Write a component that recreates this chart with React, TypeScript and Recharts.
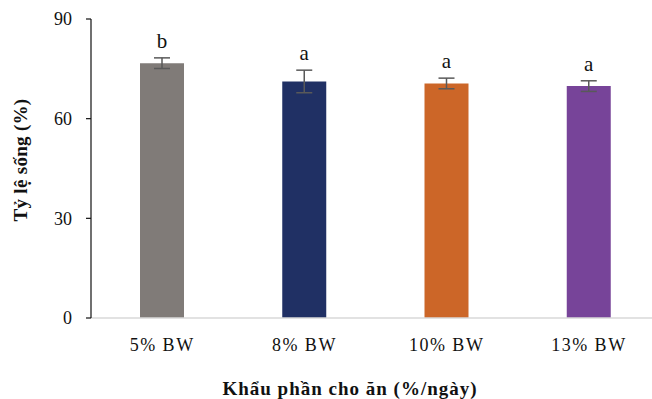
import React from "react";
import {
  BarChart,
  Bar,
  XAxis,
  YAxis,
  Cell,
  ErrorBar,
  LabelList,
} from "recharts";

const categories = ["5% BW", "8% BW", "10% BW", "13% BW"];
const survival = [76.7, 71.2, 70.6, 69.8];
const errors = [1.6, 3.4, 1.6, 1.6];
const letters = ["b", "a", "a", "a"];
const barColors = ["#807B78", "#203064", "#CC6628", "#774499"];
const yTicks = [0, 30, 60, 90];

const data = categories.map((name, i) => ({
  name,
  value: survival[i],
  err: errors[i],
  letter: letters[i],
}));

const FONT = "'Liberation Serif', 'Times New Roman', serif";

// letter sits above the error bar; error height derived from bar height/value
const LetterLabel = (props: any) => {
  const { x, y, width, height, index } = props;
  const d = data[index];
  const errPx = (height * d.err) / d.value;
  return (
    <text
      x={x + width / 2}
      y={y - errPx - 10}
      textAnchor="middle"
      fontFamily={FONT}
      fontSize={21}
      fill="#111"
    >
      {d.letter}
    </text>
  );
};

export default function App() {
  return (
    <div
      style={{
        position: "absolute",
        left: 0,
        top: 0,
        width: 652,
        height: 399,
        overflow: "hidden",
        background: "#fff",
      }}
    >
      <BarChart
        width={672}
        height={399}
        data={data}
        margin={{ top: 19, right: 12, bottom: 51, left: 0 }}
        barSize={44}
      >
        <XAxis
          dataKey="name"
          height={30}
          tickLine={false}
          axisLine={{ stroke: "#d9d9d9", strokeWidth: 1.5 }}
          tick={{ fill: "#111", fontSize: 18, fontFamily: FONT, letterSpacing: 1.5 }}
          tickMargin={14}
          interval={0}
        />
        <YAxis
          domain={[0, 90]}
          ticks={yTicks}
          width={91}
          axisLine={{ stroke: "#111", strokeWidth: 1.2 }}
          tickLine={{ stroke: "#111", strokeWidth: 1.2 }}
          tickSize={5}
          tickMargin={14}
          tick={{ fill: "#111", fontSize: 18, fontFamily: FONT }}
        />
        <Bar dataKey="value" isAnimationActive={false}>
          {data.map((d, i) => (
            <Cell key={d.name} fill={barColors[i]} />
          ))}
          <ErrorBar
            dataKey="err"
            width={8}
            stroke="#595959"
            strokeWidth={1.5}
            direction="y"
          />
          <LabelList dataKey="letter" content={LetterLabel} />
        </Bar>
        <text
          x={20}
          y={160}
          transform="rotate(-90 20 160)"
          textAnchor="middle"
          dominantBaseline="central"
          fontFamily={FONT}
          fontWeight="bold"
          fontSize={19}
          letterSpacing={0.3}
          fill="#111"
        >
          Tỷ lệ sống (%)
        </text>
        <text
          x={350}
          y={388}
          textAnchor="middle"
          dominantBaseline="central"
          fontFamily={FONT}
          fontWeight="bold"
          fontSize={19}
          letterSpacing={1}
          fill="#111"
        >
          Khẩu phần cho ăn (%/ngày)
        </text>
      </BarChart>
    </div>
  );
}
